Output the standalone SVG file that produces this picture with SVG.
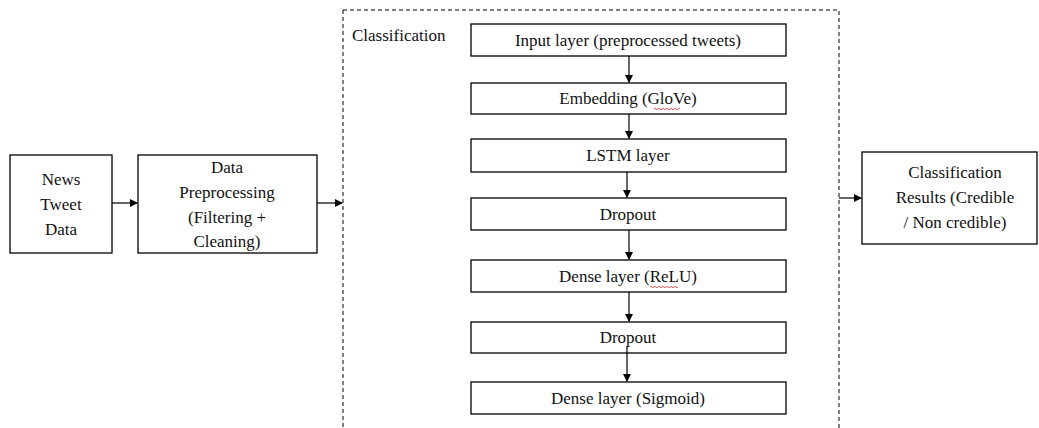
<svg xmlns="http://www.w3.org/2000/svg" width="1039" height="428" viewBox="0 0 1039 428">
<defs>
<marker id="ah" markerWidth="8" markerHeight="8" refX="7" refY="4" orient="auto" markerUnits="userSpaceOnUse">
<path d="M0,0 L8,4 L0,8 Z" fill="#000"/>
</marker>
<style>
.box{fill:#fff;stroke:#000;stroke-width:1.3}
.t{font-family:"Liberation Serif","DejaVu Serif",serif;font-size:17px;fill:#111;text-anchor:middle}
.c{stroke:#000;stroke-width:1.2;fill:none}
.sq{stroke:#e03030;stroke-width:0.8;fill:none}
</style>
</defs>
<rect width="1039" height="428" fill="#fff"/>
<g id="classification-group">
<rect x="343" y="10" width="496" height="430" fill="none" stroke="#000" stroke-width="1" stroke-dasharray="4,3"/>
<text x="352" y="41" font-family="Liberation Serif, serif" font-size="17" fill="#111">Classification</text>
</g>
<g id="news">
<rect class="box" x="10" y="155" width="102" height="98"/>
<text class="t" x="61" y="185">News</text>
<text class="t" x="61" y="210">Tweet</text>
<text class="t" x="61" y="235">Data</text>
</g>
<g id="preproc">
<rect class="box" x="138" y="155" width="179" height="98"/>
<text class="t" x="227" y="173">Data</text>
<text class="t" x="227" y="198">Preprocessing</text>
<text class="t" x="227" y="223">(Filtering +</text>
<text class="t" x="227" y="247">Cleaning)</text>
</g>
<g id="input">
<rect class="box" x="471" y="24" width="315" height="32"/>
<text class="t" x="628" y="46">Input layer (preprocessed tweets)</text>
</g>
<g id="embedding">
<rect class="box" x="471" y="83" width="315" height="31"/>
<text class="t" x="628" y="104">Embedding (GloVe)</text>
<path class="sq" d="M654,109 q1,-1.5 2,0 t2,0 t2,0 t2,0 t2,0 t2,0 t2,0 t2,0 t2,0 t2,0 t2,0 t2,0 t2,0"/>
</g>
<g id="lstm">
<rect class="box" x="471" y="139" width="315" height="33"/>
<text class="t" x="628" y="161">LSTM layer</text>
</g>
<g id="dropout1">
<rect class="box" x="471" y="198" width="315" height="32"/>
<text class="t" x="628" y="220">Dropout</text>
</g>
<g id="dense-relu">
<rect class="box" x="471" y="260" width="315" height="32"/>
<text class="t" x="628" y="282">Dense layer (ReLU)</text>
<path class="sq" d="M650,287 q1,-1.5 2,0 t2,0 t2,0 t2,0 t2,0 t2,0 t2,0 t2,0 t2,0 t2,0 t2,0 t2,0 t2,0 t2,0"/>
</g>
<g id="dropout2">
<rect class="box" x="471" y="322" width="315" height="31"/>
<text class="t" x="628" y="343">Dropout</text>
</g>
<g id="dense-sigmoid">
<rect class="box" x="471" y="382" width="315" height="32"/>
<text class="t" x="628" y="404">Dense layer (Sigmoid)</text>
</g>
<g id="results">
<rect class="box" x="862" y="152" width="175" height="92"/>
<text class="t" x="955" y="178">Classification</text>
<text class="t" x="955" y="203">Results (Credible</text>
<text class="t" x="955" y="228">/ Non credible)</text>
</g>
<g id="connectors">
<line class="c" x1="112" y1="203" x2="137" y2="203" marker-end="url(#ah)"/>
<line class="c" x1="317" y1="203" x2="342" y2="203" marker-end="url(#ah)"/>
<line class="c" x1="839" y1="198" x2="861" y2="198" marker-end="url(#ah)"/>
<line class="c" x1="629" y1="56" x2="629" y2="82" marker-end="url(#ah)"/>
<line class="c" x1="629" y1="114" x2="629" y2="138" marker-end="url(#ah)"/>
<line class="c" x1="627" y1="172" x2="627" y2="197" marker-end="url(#ah)"/>
<line class="c" x1="629" y1="230" x2="629" y2="259" marker-end="url(#ah)"/>
<line class="c" x1="629" y1="292" x2="629" y2="321" marker-end="url(#ah)"/>
<line class="c" x1="627" y1="346" x2="627" y2="381" marker-end="url(#ah)"/>
</g>
</svg>
